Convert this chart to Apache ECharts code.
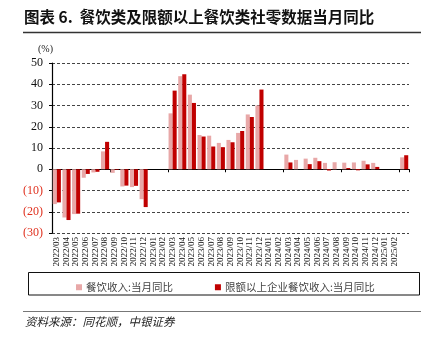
<!DOCTYPE html>
<html>
<head>
<meta charset="utf-8">
<script src="https://cdn.jsdelivr.net/npm/echarts@6/dist/echarts.min.js"></script>
<style>
  html, body { margin: 0; padding: 0; background: #fff; }
  #chart { width: 424px; height: 348px; }
</style>
</head>
<body>
<div id="chart"></div>
<script>
// Monthly categories (Jan/Feb are reported combined, so those months stay empty)
const months = [
  '2022/03','2022/04','2022/05','2022/06','2022/07','2022/08','2022/09','2022/10','2022/11','2022/12',
  '2023/01','2023/02','2023/03','2023/04','2023/05','2023/06','2023/07','2023/08','2023/09','2023/10','2023/11','2023/12',
  '2024/01','2024/02','2024/03','2024/04','2024/05','2024/06','2024/07','2024/08','2024/09','2024/10','2024/11','2024/12',
  '2025/01','2025/02','2025/03'
];

// 餐饮收入：当月同比 (%)
const cateringYoY = [
  -16.4, -22.7, -21.1, -4.0, -1.5, 8.4, -1.7, -8.1, -8.4, -14.1,
  null, null, 26.3, 43.8, 35.1, 16.1, 15.8, 12.4, 13.8, 17.1, 25.8, 30.0,
  null, null, 6.9, 4.4, 5.0, 5.4, 3.0, 3.3, 3.1, 3.2, 4.0, 3.0,
  null, null, 5.6
];

// 限额以上企业餐饮收入：当月同比 (%)
const aboveQuotaYoY = [
  -15.6, -23.9, -20.9, -2.2, -1.2, 12.9, -0.3, -7.7, -7.8, -17.8,
  null, null, 37.0, 44.7, 31.2, 15.4, 10.7, 10.4, 12.7, 18.0, 24.6, 37.5,
  null, null, 3.2, 0.0, 2.4, 3.8, -0.6, 0.0, 0.6, -0.5, 2.3, 1.1,
  null, null, 6.6
];

const yTicks = { min: -30, max: 50, step: 10 };

const serif = '"Liberation Serif", "DejaVu Serif", serif';
const cjk = '"Noto Sans CJK SC", sans-serif';

const chart = echarts.init(document.getElementById('chart'), null, { renderer: 'canvas' });

chart.setOption({
  animation: false,
  backgroundColor: '#ffffff',
  grid: { left: 52, right: 15, top: 63, bottom: 115, containLabel: false },
  graphic: [
    { type: 'text', left: 24, top: 9,
      style: { text: '图表 6.  餐饮类及限额以上餐饮类社零数据当月同比', fill: '#111',
               font: 'bold 15.5px ' + cjk } },
    { type: 'line', shape: { x1: 23, y1: 32.5, x2: 421, y2: 32.5 },
      style: { stroke: '#333', lineWidth: 1.5 } },
    { type: 'text', left: 38, top: 44,
      style: { text: '(%)', fill: '#222', font: '10px ' + serif } },
    { type: 'rect', shape: { x: 28.5, y: 272.5, width: 391, height: 22.5 },
      style: { fill: 'none', stroke: '#111', lineWidth: 1 } },
    { type: 'line', shape: { x1: 23, y1: 311.5, x2: 421, y2: 311.5 },
      style: { stroke: '#777', lineWidth: 1 } },
    { type: 'text', left: 25, top: 316,
      style: { text: '资料来源：同花顺，中银证券', fill: '#222',
               font: 'italic 11.5px ' + cjk } }
  ],
  legend: {
    left: 71, top: 277,
    itemWidth: 6, itemHeight: 6, itemGap: 42,
    icon: 'rect',
    textStyle: { fontFamily: cjk, fontSize: 10.5, color: '#444', padding: [0, 0, 0, -1] },
    data: ['餐饮收入:当月同比', '限额以上企业餐饮收入:当月同比']
  },
  xAxis: [
    {
      type: 'category', data: months, gridIndex: 0,
      axisLine: { onZero: true, lineStyle: { color: '#000', width: 1.2 } },
      axisTick: { show: true, length: 3, lineStyle: { color: '#000' } },
      axisLabel: { show: false }
    },
    {
      type: 'category', data: months, gridIndex: 0, position: 'bottom',
      axisLine: { show: false, onZero: false },
      axisTick: { show: false },
      axisLabel: {
        show: true, rotate: 90, margin: 4, fontSize: 9, fontFamily: serif, color: '#111',
        hideOverlap: false,
        interval: function (index) { return index < months.length - 1; }
      }
    }
  ],
  yAxis: {
    type: 'value', min: yTicks.min, max: yTicks.max, interval: yTicks.step,
    axisLine: { show: true, lineStyle: { color: '#000', width: 1.2 } },
    axisTick: { show: true, length: 3, lineStyle: { color: '#000' } },
    axisLabel: {
      margin: 9, fontSize: 12, fontFamily: serif,
      formatter: function (v) { return v < 0 ? '(' + Math.abs(v) + ')' : String(v); },
      color: function (v) { return Number(v) < 0 ? '#e0301e' : '#111'; }
    },
    splitLine: { show: true, lineStyle: { color: '#444', type: [3, 2], width: 1 } }
  },
  series: [
    {
      name: '餐饮收入:当月同比', type: 'bar', xAxisIndex: 0,
      data: cateringYoY, barGap: '0%', barCategoryGap: '16%',
      itemStyle: { color: '#E8A8A8' }
    },
    {
      name: '限额以上企业餐饮收入:当月同比', type: 'bar', xAxisIndex: 0,
      data: aboveQuotaYoY, barGap: '0%', barCategoryGap: '16%',
      itemStyle: { color: '#C00000' }
    }
  ]
});
</script>
</body>
</html>
